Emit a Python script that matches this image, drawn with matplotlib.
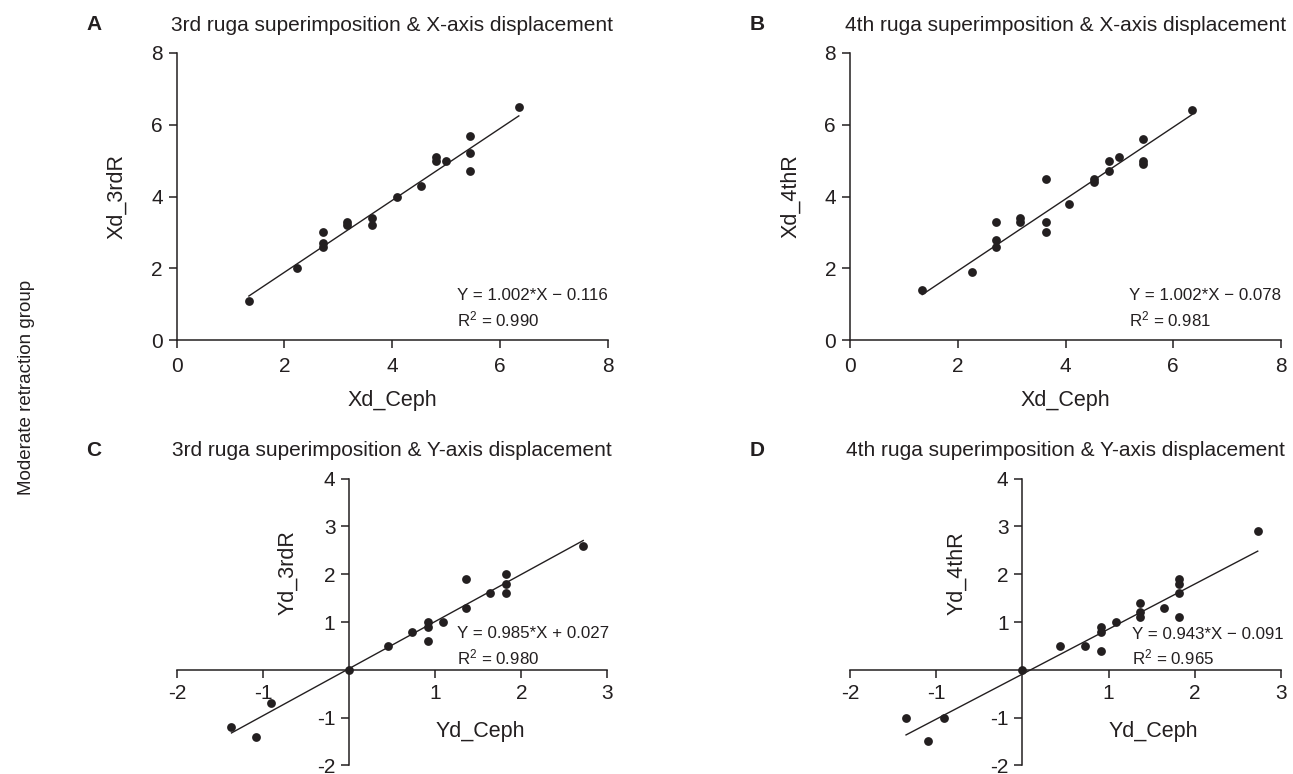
"""
Ruga superimposition vs. cephalometric displacement, moderate retraction group.
"""
import numpy as np
import matplotlib
matplotlib.use('Agg')
import matplotlib.pyplot as plt

plt.rcParams['font.family'] = ['Liberation Sans', 'DejaVu Sans']
plt.rcParams['mathtext.fontset'] = 'custom'
plt.rcParams['mathtext.rm'] = 'Liberation Sans'
plt.rcParams['mathtext.default'] = 'regular'
plt.rcParams['axes.unicode_minus'] = False

INK = '#231f20'

# --- data ---
# A: 3rd ruga, X-axis
xd_ceph_3 = [1.34, 2.24, 2.71, 2.71, 2.71, 3.16, 3.16, 3.63, 3.63, 4.08,
             4.54, 4.81, 4.81, 4.99, 5.44, 5.44, 5.44, 6.35]
xd_3rdR = [1.1, 2.0, 3.0, 2.7, 2.6, 3.3, 3.2, 3.4, 3.2, 4.0,
           4.3, 5.1, 5.0, 5.0, 5.7, 5.2, 4.7, 6.5]

# B: 4th ruga, X-axis
xd_ceph_4 = [1.34, 2.26, 2.71, 2.71, 2.71, 3.16, 3.16, 3.63, 3.63, 3.63,
             4.07, 4.53, 4.53, 4.80, 4.80, 5.00, 5.43, 5.43, 5.43, 6.35]
xd_4thR = [1.4, 1.9, 3.3, 2.8, 2.6, 3.4, 3.3, 4.5, 3.3, 3.0,
           3.8, 4.5, 4.4, 5.0, 4.7, 5.1, 5.6, 5.0, 4.9, 6.4]

# C: 3rd ruga, Y-axis
yd_ceph_3 = [-1.37, -1.09, -0.91, 0.0, 0.45, 0.73, 0.91, 0.91, 0.91, 1.09,
             1.36, 1.36, 1.64, 1.82, 1.82, 1.82, 2.72]
yd_3rdR = [-1.2, -1.4, -0.7, 0.0, 0.5, 0.8, 1.0, 0.9, 0.6, 1.0,
           1.9, 1.3, 1.6, 2.0, 1.8, 1.6, 2.6]

# D: 4th ruga, Y-axis
yd_ceph_4 = [-1.35, -1.09, -0.91, 0.0, 0.44, 0.73, 0.91, 0.91, 0.91, 1.09,
             1.36, 1.36, 1.36, 1.64, 1.82, 1.82, 1.82, 1.82, 2.73]
yd_4thR = [-1.0, -1.5, -1.0, 0.0, 0.5, 0.5, 0.9, 0.8, 0.4, 1.0,
           1.4, 1.2, 1.1, 1.3, 1.9, 1.8, 1.6, 1.1, 2.9]

# regression results printed on the panels
fits = {
    'A': (1.002, -0.116, 0.990),
    'B': (1.002, -0.078, 0.981),
    'C': (0.985, 0.027, 0.980),
    'D': (0.943, -0.091, 0.965),
}


def eq_text(slope, icpt):
    sign = '+' if icpt >= 0 else '\u2212'
    return f'Y = {slope:.3f}*X {sign} {abs(icpt):.3f}'


def draw_panel(ax, x, y, fit, tx, ty, ty2):
    slope, icpt, r2 = fit
    ax.scatter(x, y, s=40, color=INK, zorder=3, linewidths=0)
    xs = np.array([min(x), max(x)])
    ax.plot(xs, slope * xs + icpt, color=INK, lw=1.0, zorder=2)
    ax.text(tx, ty, eq_text(slope, icpt), fontsize=12.2, color=INK,
            va='center', ha='left')
    ax.text(tx, ty2, 'R$^{2}$ = %.3f' % r2, fontsize=12.2,
            color=INK, va='center', ha='left')
    ax.tick_params(length=6, width=1.1, labelsize=15, pad=4, colors=INK)
    for s in ax.spines.values():
        s.set_linewidth(1.1)
        s.set_color(INK)
    ax.spines['top'].set_visible(False)
    ax.spines['right'].set_visible(False)


W, H = 1293, 774
fig = plt.figure(figsize=(W / 100, H / 100), dpi=100)


def rect(x0, x1, ytop, ybot):
    return [x0 / W, 1 - ybot / H, (x1 - x0) / W, (ybot - ytop) / H]


axA = fig.add_axes(rect(176.7, 607.7, 53, 340))
axB = fig.add_axes(rect(850, 1281, 53, 340))
axC = fig.add_axes(rect(177.3, 607.3, 478.7, 765.3))
axD = fig.add_axes(rect(850, 1281, 478.7, 765.3))

# top row: plain L-shaped axes
for ax, x, y, key, ylab, tx in [
        (axA, xd_ceph_3, xd_3rdR, 'A', 'Xd_3rdR', 5.2),
        (axB, xd_ceph_4, xd_4thR, 'B', 'Xd_4thR', 5.18)]:
    draw_panel(ax, x, y, fits[key], tx, 1.25, 0.58)
    ax.set_xlim(0, 8)
    ax.set_ylim(0, 8)
    ax.set_xticks([0, 2, 4, 6, 8])
    ax.set_yticks([0, 2, 4, 6, 8])
    ax.tick_params(axis='x', pad=6)
    ax.set_xlabel('Xd_Ceph', fontsize=15.5, color=INK, labelpad=10)
    ax.set_ylabel(ylab, fontsize=15.5, color=INK, labelpad=17)

# bottom row: axes crossing at the origin
for ax, x, y, key, ylab, tx, ty, ylx in [
        (axC, yd_ceph_3, yd_3rdR, 'C', 'Yd_3rdR', 1.25, 0.75, 0.281),
        (axD, yd_ceph_4, yd_4thR, 'D', 'Yd_4thR', 1.27, 0.73, 0.271)]:
    draw_panel(ax, x, y, fits[key], tx, ty, 0.25)
    ax.set_xlim(-2, 3)
    ax.set_ylim(-2, 4)
    ax.spines['left'].set_position(('data', 0))
    ax.spines['bottom'].set_position(('data', 0))
    ax.set_xticks([-2, -1, 1, 2, 3])
    ax.set_yticks([-2, -1, 1, 2, 3, 4])
    ax.set_xlabel('Yd_Ceph', fontsize=15.5, color=INK)
    ax.set_ylabel(ylab, fontsize=15.5, color=INK)
    ax.xaxis.set_label_coords(0.704, 0.155)
    ax.yaxis.set_label_coords(ylx, 0.671)

# panel letters and titles
titles = {
    'A': '3rd ruga superimposition & X-axis displacement',
    'B': '4th ruga superimposition & X-axis displacement',
    'C': '3rd ruga superimposition & Y-axis displacement',
    'D': '4th ruga superimposition & Y-axis displacement',
}
for ax, key, lx in [(axA, 'A', 94), (axB, 'B', 757), (axC, 'C', 94), (axD, 'D', 757)]:
    ax.set_title(titles[key], fontsize=15, color=INK, pad=16)
    bb = ax.get_position()
    fig.text(lx / W, bb.y1 + 28 / H, key, fontsize=15, fontweight='bold',
             color=INK, ha='center', va='center')

fig.text(27 / W, 0.5, 'Moderate retraction group', rotation=90, fontsize=13.5,
         color=INK, ha='center', va='center')

fig.savefig('out.png', dpi=100)
